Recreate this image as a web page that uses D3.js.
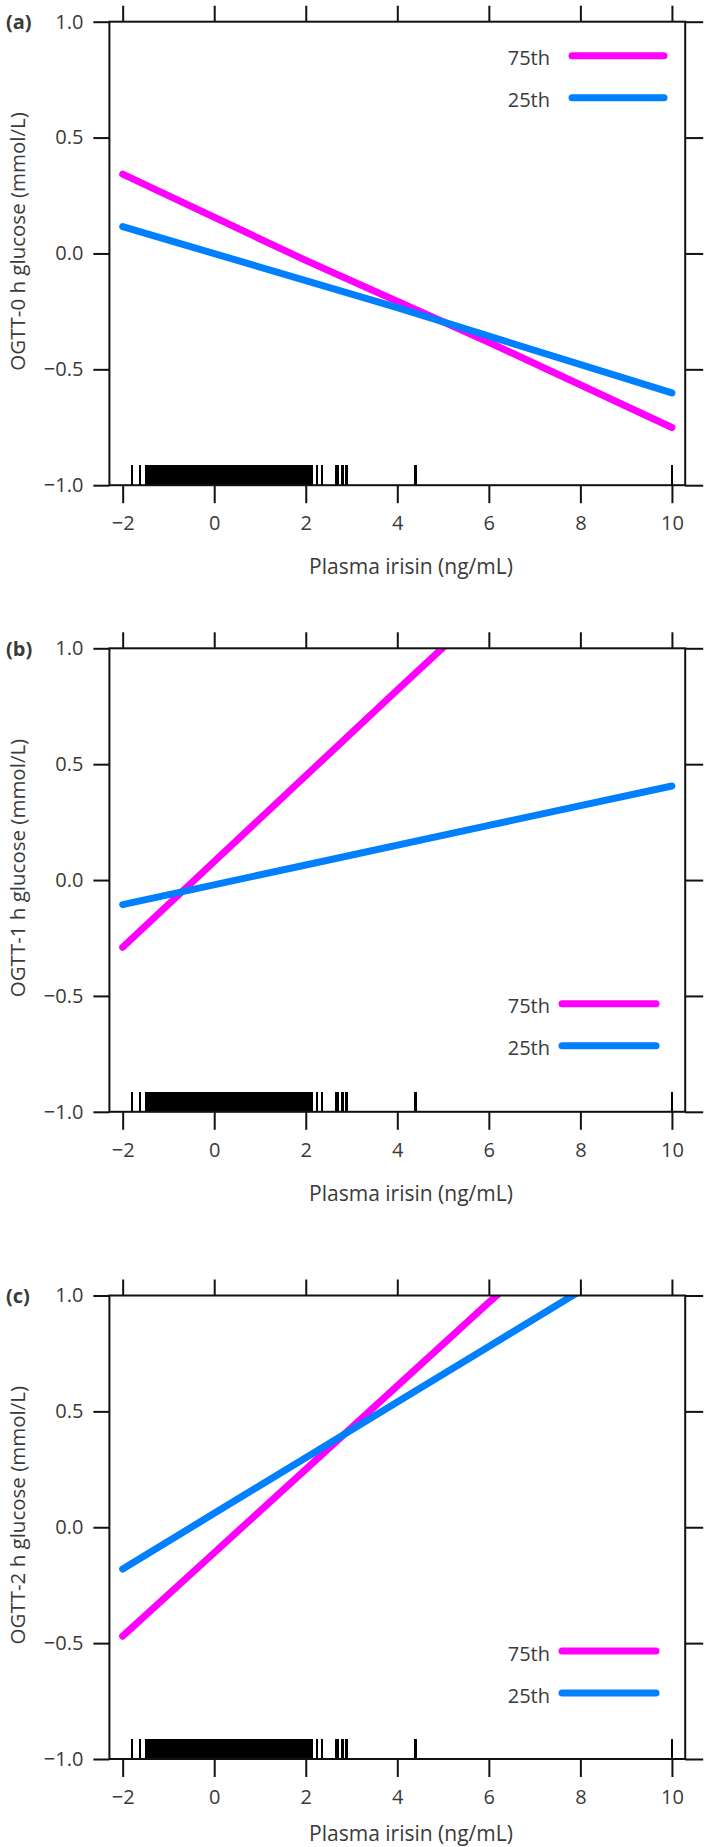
<!DOCTYPE html>
<html>
<head>
<meta charset="utf-8">
<script src="https://cdn.jsdelivr.net/npm/d3@7"></script>
<style>
  body { margin: 0; background: #fff; }
  text { font-family: "Open Sans", "Noto Sans", sans-serif; fill: #3a3a3a; }
</style>
</head>
<body>
<svg id="chart" width="709" height="1847"></svg>
<script>
// values
const xTicks = [-2, 0, 2, 4, 6, 8, 10];
const yTicks = [-1, -0.5, 0, 0.5, 1];
const panelLabels = ["(a)", "(b)", "(c)"];
const yTitles = ["OGTT-0 h glucose (mmol/L)", "OGTT-1 h glucose (mmol/L)", "OGTT-2 h glucose (mmol/L)"];
const xTitle = "Plasma irisin (ng/mL)";
const seriesNames = ["75th", "25th"];
const seriesColors = ["#ff00ff", "#0080ff"];

// panel (a)
const xA75 = [-2, 2, 6, 10], yA75 = [0.342, -0.03, -0.383, -0.751];
const xA25 = [-2, 4, 10], yA25 = [0.116, -0.234, -0.602];
// panel (b)
const xB75 = [-2, 0, 2, 4, 5.2], yB75 = [-0.29, 0.08, 0.45, 0.82, 1.04];
const xB25 = [-2, 2, 6, 10], yB25 = [-0.106, 0.065, 0.236, 0.406];
// panel (c)
const xC75 = [-2, 0, 2, 4, 6, 6.4], yC75 = [-0.47, -0.11, 0.25, 0.61, 0.97, 1.04];
const xC25 = [-2, 0, 2, 4, 6, 8], yC25 = [-0.18, 0.06, 0.30, 0.54, 0.78, 1.02];

// rug of plasma irisin observations
const rugValues = [-1.80, -1.62, -1.49,
  -1.44, -1.40, -1.37, -1.33, -1.29, -1.25, -1.21, -1.17, -1.13, -1.09, -1.05, -1.01,
  -0.97, -0.93, -0.89, -0.85, -0.81, -0.77, -0.73, -0.69, -0.65, -0.61, -0.57, -0.53,
  -0.49, -0.45, -0.41, -0.37, -0.33, -0.29, -0.25, -0.21, -0.17, -0.13, -0.09, -0.05,
  -0.01, 0.03, 0.07, 0.11, 0.15, 0.19, 0.23, 0.27, 0.31, 0.35, 0.39, 0.43, 0.47, 0.51,
  0.55, 0.59, 0.63, 0.67, 0.71, 0.75, 0.79, 0.83, 0.87, 0.91, 0.95, 0.99, 1.03, 1.07,
  1.11, 1.15, 1.19, 1.23, 1.27, 1.31, 1.35, 1.39, 1.43, 1.47, 1.51, 1.55, 1.59, 1.63,
  1.67, 1.71, 1.75, 1.79, 1.83, 1.87, 1.91, 1.95, 1.99, 2.03, 2.06, 2.09,
  2.13, 2.25, 2.36, 2.66, 2.71, 2.80, 2.89, 4.40, 10.0];

const panels = [
  {label: panelLabels[0], yTitle: yTitles[0], top: 21.7, legendAt: "top",
   series: [{x: xA75, y: yA75}, {x: xA25, y: yA25}]},
  {label: panelLabels[1], yTitle: yTitles[1], top: 648.3, legendAt: "bottom",
   series: [{x: xB75, y: yB75}, {x: xB25, y: yB25}]},
  {label: panelLabels[2], yTitle: yTitles[2], top: 1295.5, legendAt: "bottom",
   series: [{x: xC75, y: yC75}, {x: xC25, y: yC25}]}
];

const left = 109.4, right = 685.2, panelH = 463.5;
const fmtY = d3.format(".1f"), fmtX = d3.format("d");

const svg = d3.select("#chart");

panels.forEach((p, pi) => {
  const top = p.top, bottom = top + panelH;
  const x = d3.scaleLinear().domain([-2.29, 10.29]).range([left, right]);
  const y = d3.scaleLinear().domain([-1, 1]).range([bottom, top]);

  const g = svg.append("g");

  // clip for the curves
  g.append("clipPath").attr("id", "clip" + pi)
    .append("rect").attr("x", left).attr("y", top)
    .attr("width", right - left).attr("height", panelH);

  // rug
  g.append("g").attr("shape-rendering", "crispEdges")
    .selectAll("line").data(rugValues).enter().append("line")
    .attr("x1", d => x(d)).attr("x2", d => x(d))
    .attr("y1", y(-1)).attr("y2", y(-1) - 20)
    .attr("stroke", "#000").attr("stroke-width", 2.4);

  // fitted lines
  const line = d3.line().x(d => x(d[0])).y(d => y(d[1]));
  p.series.forEach((s, si) => {
    g.append("path")
      .datum(d3.zip(s.x, s.y))
      .attr("d", line)
      .attr("clip-path", "url(#clip" + pi + ")")
      .attr("fill", "none")
      .attr("stroke", seriesColors[si])
      .attr("stroke-width", 7)
      .attr("stroke-linecap", "round");
  });

  // axes: ticks outward on all four sides
  g.append("g").attr("transform", `translate(0,${bottom})`)
    .call(d3.axisBottom(x).tickValues(xTicks).tickSize(18).tickPadding(4).tickFormat(fmtX))
    .call(a => a.select(".domain").remove())
    .call(a => a.selectAll("text").attr("font-size", 20).attr("dy", "1.15em"));
  g.append("g").attr("transform", `translate(0,${top})`)
    .call(d3.axisTop(x).tickValues(xTicks).tickSize(16).tickFormat(""))
    .call(a => a.select(".domain").remove());
  g.append("g").attr("transform", `translate(${left},0)`)
    .call(d3.axisLeft(y).tickValues(yTicks).tickSize(16).tickPadding(10).tickFormat(fmtY))
    .call(a => a.select(".domain").remove())
    .call(a => a.selectAll("text").attr("font-size", 20));
  g.append("g").attr("transform", `translate(${right},0)`)
    .call(d3.axisRight(y).tickValues(yTicks).tickSize(18).tickFormat(""))
    .call(a => a.select(".domain").remove());
  g.selectAll(".tick line").attr("stroke", "#111").attr("stroke-width", 2);
  g.selectAll(".tick text").attr("fill", "#3a3a3a").attr("font-family", "'Open Sans', sans-serif");

  // frame
  g.append("rect").attr("x", left).attr("y", top)
    .attr("width", right - left).attr("height", panelH)
    .attr("fill", "none").attr("stroke", "#111").attr("stroke-width", 2);

  // titles
  g.append("text").attr("x", 411).attr("y", Math.min(bottom + 81, 1833))
    .attr("text-anchor", "middle").attr("dominant-baseline", "central")
    .attr("font-size", 21).text(xTitle);
  g.append("text")
    .attr("transform", `translate(17,${(top + bottom) / 2 - 12}) rotate(-90)`)
    .attr("text-anchor", "middle").attr("dominant-baseline", "central")
    .attr("font-size", 20.5).text(p.yTitle);
  g.append("text").attr("x", 6).attr("y", top)
    .attr("dominant-baseline", "central")
    .attr("font-size", 20).attr("font-weight", "bold").attr("fill", "#111")
    .text(p.label);

  // legend
  const legY = p.legendAt === "top" ? [top + 36, top + 78] : [bottom - 106, bottom - 64];
  const legX = p.legendAt === "top" ? [572, 664] : [562, 656];
  seriesNames.forEach((name, si) => {
    g.append("text").attr("x", 550).attr("y", legY[si])
      .attr("text-anchor", "end").attr("dominant-baseline", "central")
      .attr("font-size", 20).text(name);
    g.append("line")
      .attr("x1", legX[0]).attr("x2", legX[1])
      .attr("y1", legY[si] - 2).attr("y2", legY[si] - 2)
      .attr("stroke", seriesColors[si]).attr("stroke-width", 7)
      .attr("stroke-linecap", "round");
  });
});
</script>
</body>
</html>
